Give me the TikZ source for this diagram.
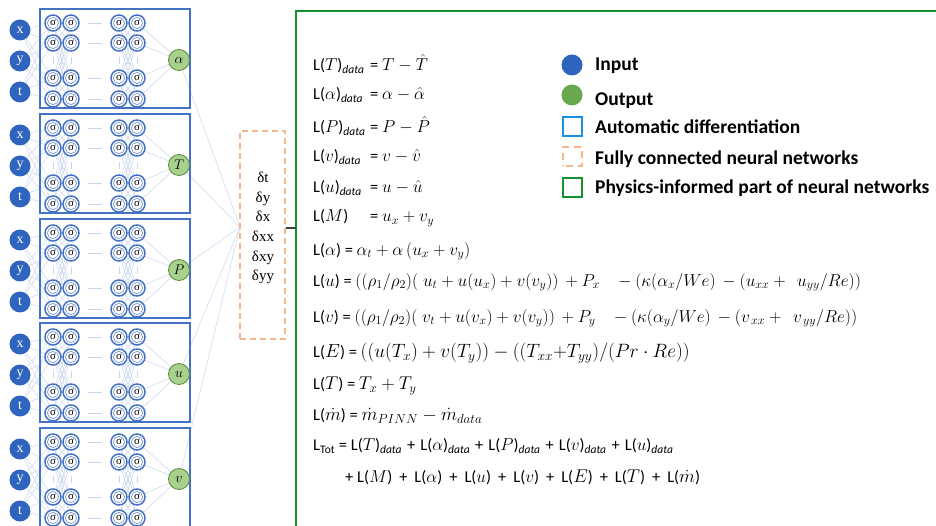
\RequirePackage{fix-cm}
\documentclass[tikz,border=0pt]{standalone}
\usepackage{fontspec}
\setmainfont{Carlito}
\newfontfamily\serifd{Liberation Serif}
\usetikzlibrary{calc,backgrounds}
\definecolor{nnblue}{HTML}{4472C4}
\definecolor{inblue}{HTML}{2F65BE}
\definecolor{edgec}{HTML}{C9D5EF}
\definecolor{outgreen}{HTML}{A9D18E}
\definecolor{outborder}{HTML}{5A8A3A}
\definecolor{leggreen}{HTML}{6AA84F}
\definecolor{legblue}{HTML}{1A8FE3}
\definecolor{pigreen}{HTML}{12912E}
\definecolor{fcorange}{HTML}{F8B58A}
\newcommand{\Ldat}{\textsubscript{\itshape data}}
\newcommand{\mth}[1]{{\fontsize{17.3}{18}\selectfont$#1$}}
\newcommand{\mthb}[2]{{\fontsize{#1}{18}\selectfont$#2$}}
\newcommand{\pl}{\hspace{7pt}+\hspace{7pt}}
\newcommand{\pls}{\hspace{5pt}+\hspace{5pt}}
\tikzset{
  panel/.style={draw=nnblue, line width=1.5pt},
  innode/.style={circle, fill=inblue, minimum size=21pt, inner sep=0pt, text=white, font=\serifd\fontsize{14}{14}\selectfont},
  signode/.style={circle, draw=nnblue, line width=1.5pt, fill=white, minimum size=16pt, inner sep=0pt, font=\serifd\fontsize{11}{11}\selectfont,
     path picture={\draw[nnblue!70, line width=0.7pt] (path picture bounding box.center) circle (5.6pt);}},
  outnode/.style={circle, fill=outgreen, draw=outborder, line width=0.8pt, minimum size=21pt, inner sep=0pt, font=\fontsize{14}{14}\selectfont},
  edgeline/.style={draw=edgec, line width=0.5pt},
  eq/.style={anchor=west, inner sep=0pt, font=\fontsize{16.5}{18}\selectfont},
  legtext/.style={anchor=west, inner sep=0pt, font=\bfseries\fontsize{19.5}{22}\selectfont},
}
\begin{document}
\begin{tikzpicture}[x=1pt,y=-1pt]
\useasboundingbox (0,0) rectangle (936,526);
\clip (0,0) rectangle (936,526);
% delta box
\node[draw=fcorange, dashed, dash pattern=on 6pt off 4pt, line width=1.2pt, minimum width=45pt, minimum height=208pt, inner sep=0pt] (fc) at (262.5,235) {};
\node[align=center, inner sep=0pt, font=\serifd\fontsize{15}{19.6}\selectfont] (dl) at (263,228) {\serifd δt\\\serifd δy\\\serifd δx\\\serifd δxx\\\serifd δxy\\\serifd δyy};
\coordinate (conv) at (240,227);
% networks
\foreach \tp/\lab [count=\i] in {9/\alpha,114/T,219/P,323/u,428/v} {
  \draw[panel] (40,\tp) rectangle (190,\tp+99);
  \foreach \nm/\oy [count=\k] in {x/21,y/52,t/83}
    \node[innode] (in\i-\k) at (20,\tp+\oy) {\nm};
  \foreach \cx [count=\c] in {53,71,119,137}
    \foreach \oy [count=\r] in {14,34,69,90}
      \node[signode] (s\i-\c-\r) at (\cx,\tp+\oy) {σ};
  \node[outnode] (o\i) at (179,\tp+51) {$\lab$};
  \begin{scope}[on background layer]
    \foreach \k in {1,2,3}
      \foreach \r in {1,...,4}
        \draw[edgeline] (in\i-\k) -- (s\i-1-\r);
    \foreach \r in {1,...,4}
      \foreach \q in {1,...,4} {
        \draw[edgeline] (s\i-1-\r) -- (s\i-2-\q);
        \draw[edgeline] (s\i-3-\r) -- (s\i-4-\q);
      }
    \foreach \r in {1,...,4} {
      \draw[edgeline, shorten <=8pt, shorten >=8pt] (s\i-2-\r) -- (s\i-3-\r);
      \draw[edgeline] (s\i-4-\r) -- (o\i);
    }
    \foreach \c in {1,...,4}
      \draw[edgeline, shorten <=5pt, shorten >=5pt] (s\i-\c-2) -- (s\i-\c-3);
    \draw[edgeline] (o\i) -- (conv);
  \end{scope}
}
% physics-informed box
\draw[draw=pigreen, line width=2pt] (296,11) rectangle (960,560);
\coordinate (fcr) at (fc.east |- 0,228);
\coordinate (pil) at (296,228);
\draw[draw=black!75, line width=1.5pt] (fcr) -- (pil);
% equations
\node[eq] (e1) at (313,64) {\makebox[57pt][l]{L(\mth{T})\Ldat}= \mth{T - \hat{T}}};
\node[eq] (e2) at (313,95) {\makebox[57pt][l]{L(\mth{\alpha})\Ldat}= \mth{\alpha - \hat{\alpha}}};
\node[eq] (e3) at (313,126) {\makebox[57pt][l]{L(\mth{P})\Ldat}= \mth{P - \hat{P}}};
\node[eq] (e4) at (313,157) {\makebox[57pt][l]{L(\mth{v})\Ldat}= \mth{v - \hat{v}}};
\node[eq] (e5) at (313,188) {\makebox[57pt][l]{L(\mth{u})\Ldat}= \mth{u - \hat{u}}};
\node[eq] (e6) at (313,218) {\makebox[57pt][l]{L(\mth{M})}= \mth{u_x + v_y}};
\node[eq] (e7) at (313,251) {L(\mth{\alpha}) = \mth{\alpha_t + \alpha\,(u_x + v_y)}};
\node[eq] (e8) at (313,282) {L(\mth{u}) = \mth{((\rho_1/\rho_2)(\;u_t + u(u_x) + v(v_y))\, + P_x\;\;\;-(\kappa(\alpha_x/We)\, - (u_{xx} +\;\, u_{yy}/Re))}};
\node[eq] (e9) at (313,318) {L(\mth{v}) = \mth{((\rho_1/\rho_2)(\;v_t + u(v_x) + v(v_y))\, + P_y\;\;\;-(\kappa(\alpha_y/We)\, - (v_{\,xx} +\;\, v_{\,yy}/Re))}};
\node[eq] (e10) at (313,353) {L(\mthb{19}{E}) = \mthb{19.3}{((u(T_x) + v(T_y)) - ((T_{xx}{+}T_{yy})/(Pr\cdot Re))}};
\node[eq] (e11) at (313,386) {L(\mthb{18.5}{T}) = \mthb{18.5}{T_x + T_y}};
\node[eq] (e12) at (313,416) {L(\mthb{18.5}{\dot{m}}) = \mthb{18.7}{\dot{m}_{PINN} - \dot{m}_{data}}};
\node[eq] (e13) at (313,446) {L\textsubscript{Tot} = L(\mth{T})\Ldat\pls L(\mth{\alpha})\Ldat\pls L(\mth{P})\Ldat\pls L(\mth{v})\Ldat\pls L(\mth{u})\Ldat};
\node[eq] (e14) at (345,477) {+ L(\mth{M})\pl L(\mth{\alpha})\pl L(\mth{u})\pl L(\mth{v})\pl L(\mthb{18.5}{E})\pl L(\mthb{18.5}{T})\pl L(\mthb{18.5}{\dot{m}})};
% legend
\node[circle, fill=inblue, minimum size=21pt, inner sep=0pt] (lg1) at (572,65) {};
\node[legtext] (lt1) at (595,66) {Input};
\node[circle, fill=leggreen, minimum size=21pt, inner sep=0pt] (lg2) at (572,95) {};
\node[legtext] (lt2) at (595,101) {Output};
\node[draw=legblue, line width=2pt, minimum size=19pt, inner sep=0pt] (lg3) at (572,126.5) {};
\node[legtext] (lt3) at (595,127) {Automatic differentiation};
\node[draw=fcorange, line width=2pt, dashed, dash pattern=on 7pt off 5pt, dash phase=-3pt, minimum size=19pt, inner sep=0pt] (lg4) at (572,157) {};
\node[legtext] (lt4) at (595,159) {Fully connected neural networks};
\node[draw=pigreen, line width=2pt, minimum size=19pt, inner sep=0pt] (lg5) at (572,187.5) {};
\node[legtext] (lt5) at (595,188) {Physics-informed part of neural networks};
\end{tikzpicture}
\end{document}
